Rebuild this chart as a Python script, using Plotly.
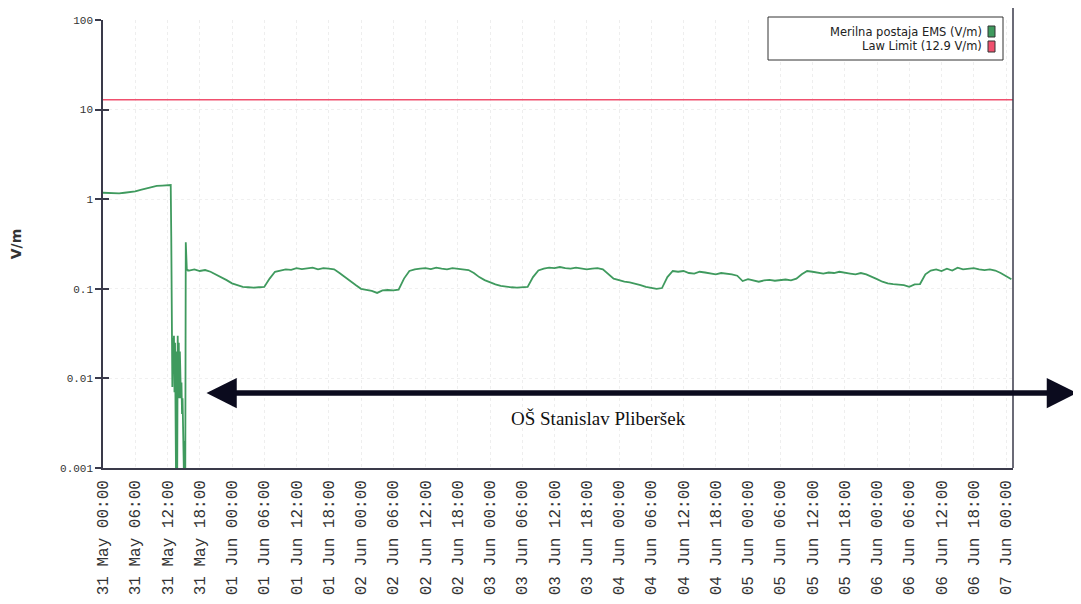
import plotly.graph_objects as go
import pandas as pd

# ---------------- data ----------------
start = pd.Timestamp("2013-05-31 00:00")
x_end = pd.Timestamp("2013-06-07 01:18")

# hourly values (V/m), hours 0..12 from 31 May 00:00
ems_early = [1.18, 1.17, 1.18, 1.16, 1.18, 1.19, 1.22, 1.27, 1.32, 1.36, 1.41, 1.42, 1.44]

# dense segment around the interruption, 6-minute steps from 31 May 12:36
drop_start = pd.Timestamp("2013-05-31 12:36")
ems_drop = [1.44, 0.38, 0.03, 0.008, 0.028, 0.012, 0.03, 0.007, 0.025, 0.0006,
            0.0006, 0.02, 0.0006, 0.03, 0.009, 0.025, 0.006, 0.02, 0.012, 0.006,
            0.009, 0.004, 0.006, 0.003, 0.0006, 0.0006, 0.002, 0.0006, 0.33, 0.2,
            0.16, 0.165, 0.16]

# hourly values, hours 16..169
ems_late = [
    0.16, 0.165, 0.158, 0.162, 0.155,
    0.145, 0.135, 0.125, 0.115, 0.11, 0.105,
    0.104, 0.103, 0.104, 0.105,
    0.13, 0.155,
    0.16, 0.165, 0.163, 0.17, 0.166, 0.168, 0.172, 0.165, 0.17, 0.168, 0.165,
    0.15, 0.135, 0.12, 0.11, 0.1,
    0.098, 0.095, 0.09, 0.096, 0.097, 0.096, 0.098,
    0.13, 0.158,
    0.165, 0.168, 0.17, 0.166, 0.172, 0.168, 0.165, 0.17, 0.168, 0.165, 0.162,
    0.15, 0.135, 0.125, 0.118, 0.112, 0.108, 0.105,
    0.104, 0.103, 0.104, 0.105,
    0.135, 0.16,
    0.168, 0.172, 0.17, 0.175, 0.17, 0.168, 0.172, 0.17, 0.165, 0.168, 0.17, 0.165,
    0.145, 0.13, 0.125, 0.12, 0.118, 0.115, 0.11, 0.105, 0.102,
    0.1, 0.102,
    0.135, 0.158,
    0.155, 0.158, 0.15, 0.148, 0.155, 0.152, 0.148, 0.145, 0.15, 0.148, 0.145, 0.14,
    0.122, 0.128,
    0.125, 0.12, 0.124, 0.126, 0.123, 0.125, 0.127, 0.124, 0.13,
    0.145, 0.158,
    0.155, 0.15, 0.148, 0.152, 0.15, 0.155, 0.15, 0.148, 0.145, 0.15, 0.145,
    0.135, 0.128, 0.12, 0.115, 0.113,
    0.112, 0.11, 0.105, 0.112, 0.113,
    0.145, 0.16,
    0.165, 0.158, 0.168, 0.16, 0.172, 0.165, 0.168, 0.17, 0.165, 0.162, 0.165, 0.16,
    0.15, 0.138, 0.128,
]

law_limit = 12.9

tick_labels = [
    "31 May 00:00", "31 May 06:00", "31 May 12:00", "31 May 18:00",
    "01 Jun 00:00", "01 Jun 06:00", "01 Jun 12:00", "01 Jun 18:00",
    "02 Jun 00:00", "02 Jun 06:00", "02 Jun 12:00", "02 Jun 18:00",
    "03 Jun 00:00", "03 Jun 06:00", "03 Jun 12:00", "03 Jun 18:00",
    "04 Jun 00:00", "04 Jun 06:00", "04 Jun 12:00", "04 Jun 18:00",
    "05 Jun 00:00", "05 Jun 06:00", "05 Jun 12:00", "05 Jun 18:00",
    "06 Jun 00:00", "06 Jun 06:00", "06 Jun 12:00", "06 Jun 18:00",
    "07 Jun 00:00",
]
y_tickvals = [0.001, 0.01, 0.1, 1, 10, 100]
y_ticktext = ["0.001", "0.01", "0.1", "1", "10", "100"]

# ---------------- build series ----------------
t_early = [start + pd.Timedelta(hours=h) for h in range(len(ems_early))]
t_drop = [drop_start + pd.Timedelta(minutes=6 * i) for i in range(len(ems_drop))]
t_late = [start + pd.Timedelta(hours=16 + h) for h in range(len(ems_late))]
t_all = t_early + t_drop + t_late
v_all = ems_early + ems_drop + ems_late
tick_vals = [start + pd.Timedelta(hours=6 * i) for i in range(len(tick_labels))]

GREEN = "#3f9a5e"
RED = "#f0506e"
AXIS = "#3a3a4a"

fig = go.Figure()
fig.add_trace(go.Scatter(x=t_all, y=v_all, mode="lines", name="Merilna postaja EMS (V/m)",
                         line=dict(color=GREEN, width=1.8), showlegend=False))
fig.add_trace(go.Scatter(x=[start, x_end], y=[law_limit, law_limit], mode="lines",
                         name="Law Limit (12.9 V/m)", line=dict(color=RED, width=1.5),
                         showlegend=False))
# overlay axis used only to draw inner halves of the cross-shaped y ticks
fig.add_trace(go.Scatter(x=[start], y=[1], yaxis="y2", mode="markers",
                         marker=dict(opacity=0), showlegend=False, hoverinfo="skip"))

# page body has an 8px margin: work in screenshot coordinates and shift
OFF = 8
L_img, R_img, T_img, B_img = 103, 1013, 20, 468
L, R, T, B = L_img - OFF, R_img - OFF, T_img - OFF, B_img - OFF
W, H = 1081 - OFF, 604 - OFF

def px(xp):
    return (xp - L_img) / (R_img - L_img)

def py(yp):
    return (B_img - yp) / (B_img - T_img)

fig.update_layout(
    width=W, height=H,
    margin=dict(l=L, r=W - R, t=T, b=H - B, autoexpand=False),
    paper_bgcolor="white", plot_bgcolor="white",
    xaxis=dict(
        type="date", range=[start, x_end], automargin=False,
        tickvals=tick_vals, ticktext=tick_labels, tickangle=-90,
        tickfont=dict(family="Liberation Mono", size=16, color="#333"),
        ticks="", showline=True, linecolor=AXIS, linewidth=1.5,
        showgrid=True, gridcolor="#eeeeee", griddash="dot",
        ticklabelstandoff=4, zeroline=False,
    ),
    yaxis=dict(
        type="log", range=[-3, 2], automargin=False,
        tickvals=y_tickvals, ticktext=y_ticktext,
        tickfont=dict(family="Liberation Mono", size=11, color="#333"),
        ticks="outside", ticklen=6, tickwidth=1.5, tickcolor=AXIS,
        showline=True, linecolor=AXIS, linewidth=1.5,
        showgrid=True, gridcolor="#f0f0f0", griddash="dot",
        title=dict(text="<b>V/m</b>", font=dict(family="DejaVu Sans", size=14, color="#333"),
                   standoff=36),
        zeroline=False,
    ),
    yaxis2=dict(
        type="log", range=[-3, 2], overlaying="y", side="left", automargin=False,
        tickvals=y_tickvals, showticklabels=False,
        ticks="inside", ticklen=6, tickwidth=1.5, tickcolor=AXIS,
        showline=False, showgrid=False, zeroline=False,
    ),
    showlegend=False,
)

# right border line extending to the top of the image
fig.add_shape(type="line", xref="paper", yref="paper", x0=1, x1=1, y0=0, y1=py(0),
              line=dict(color=AXIS, width=1.5))

# legend box (symbols on the right as in the original)
fig.add_shape(type="rect", xref="paper", yref="paper",
              x0=px(768), x1=px(1003), y0=py(60), y1=py(17),
              line=dict(color="#333", width=1), fillcolor="white")
fig.add_annotation(xref="paper", yref="paper", x=px(984), y=py(31.5),
                   text="Merilna postaja EMS (V/m)", showarrow=False,
                   xanchor="right", yanchor="middle",
                   font=dict(family="DejaVu Sans", size=11.5, color="#222"))
fig.add_annotation(xref="paper", yref="paper", x=px(984), y=py(45.5),
                   text="Law Limit (12.9 V/m)", showarrow=False,
                   xanchor="right", yanchor="middle",
                   font=dict(family="DejaVu Sans", size=11.5, color="#222"))
fig.add_shape(type="rect", xref="paper", yref="paper",
              x0=px(988), x1=px(995), y0=py(37), y1=py(26),
              line=dict(color="#333", width=1), fillcolor=GREEN)
fig.add_shape(type="rect", xref="paper", yref="paper",
              x0=px(988), x1=px(995), y0=py(52), y1=py(41),
              line=dict(color="#333", width=1), fillcolor=RED)

# double-headed arrow and label
fig.add_annotation(xref="paper", yref="paper", x=px(1077), y=py(393),
                   ax=-(1077 - 205), ay=0, axref="pixel", ayref="pixel",
                   text="", showarrow=True, arrowhead=2, arrowside="end+start",
                   arrowsize=1.1, arrowwidth=5.5, arrowcolor="#0b0b1e")
fig.add_annotation(xref="paper", yref="paper", x=px(598), y=py(418),
                   text="OŠ Stanislav Pliberšek", showarrow=False,
                   xanchor="center", yanchor="middle",
                   font=dict(family="Liberation Serif", size=19, color="#111"))

fig.write_html("out.html")
